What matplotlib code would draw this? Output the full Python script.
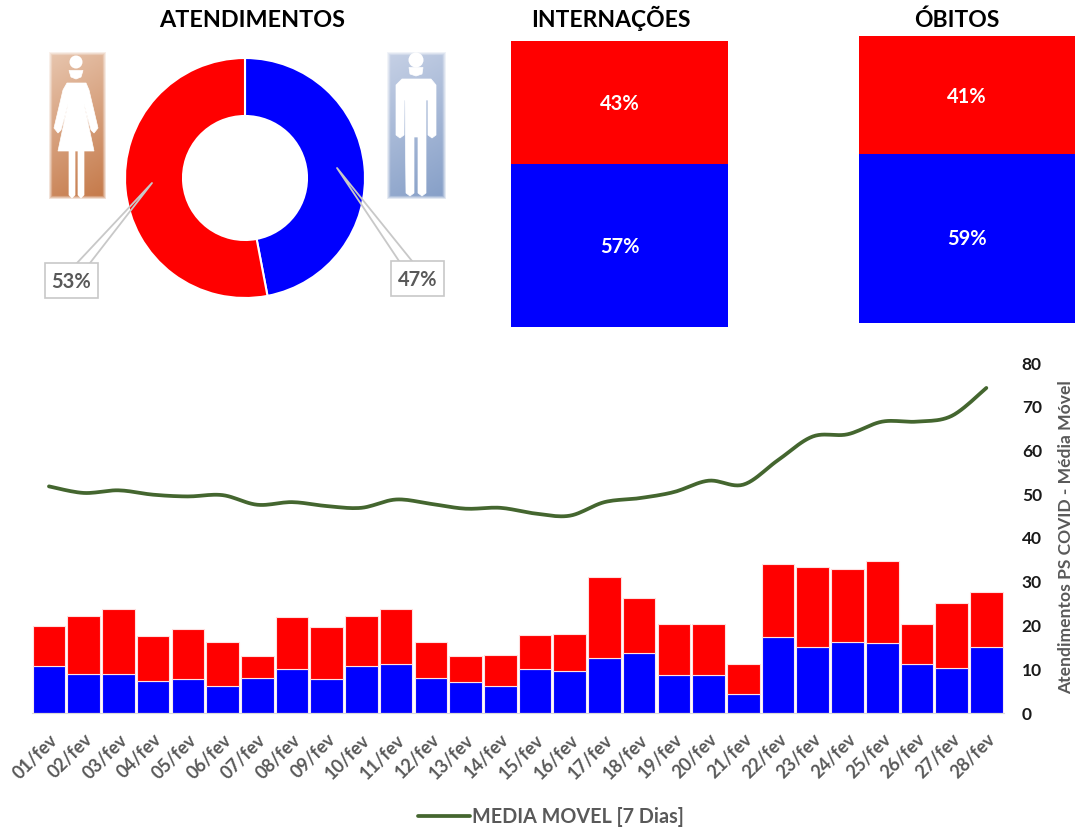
import numpy as np
import matplotlib
matplotlib.use("Agg")
import matplotlib.pyplot as plt
from matplotlib.patches import Polygon, Circle, Rectangle

plt.rcParams['font.family'] = ['Lato', 'DejaVu Sans']
plt.rcParams['font.weight'] = 'bold'

days = ["%02d/fev" % d for d in range(1, 29)]
masc = [10.8, 8.9, 8.9, 7.4, 7.8, 6.2, 8, 10, 7.8, 10.8, 11.2, 8, 7, 6.2, 10, 9.7, 12.6, 13.7, 8.6, 8.6,
        4.4, 17.4, 15.2, 16.3, 15.9, 11.2, 10.4, 15.2]
fem = [9.2, 13.2, 14.8, 10.3, 11.4, 10.1, 5, 11.9, 11.9, 11.3, 12.6, 8.3, 6, 7.1, 7.8, 8.4, 18.4, 12.6, 11.8, 11.8,
       6.7, 16.7, 18.1, 16.7, 18.9, 9.2, 14.7, 12.5]
media = [51.8, 50.3, 50.9, 49.9, 49.5, 49.8, 47.6, 48.2, 47.3, 46.9, 48.8, 47.8, 46.7, 46.9, 45.6, 45.1, 48.2, 49.1,
         50.5, 53.1, 52.2, 57.8, 63.2, 63.7, 66.6, 66.6, 67.9, 74.3]
atend = [47, 53]
inter = [57, 43]
obitos = [59, 41]
yticks = [0, 10, 20, 30, 40, 50, 60, 70, 80]

RED, BLUE, GREEN, GRAY = '#ff0000', '#0000ff', '#44662f', '#595959'
W, H = 1075, 830
fig = plt.figure(figsize=(W / 100, H / 100), dpi=100, facecolor='white')


def axpx(x0, y0, x1, y1, **kw):
    return fig.add_axes([x0 / W, 1 - y1 / H, (x1 - x0) / W, (y1 - y0) / H], **kw)


ov = axpx(0, 0, W, H, zorder=5)
ov.axis('off')
ov.patch.set_alpha(0)


def grad_icon(x0, y0, x1, y1, c0, c1):
    n, m = 146, 57
    gy, gx = np.mgrid[0:1:n * 1j, 0:1:m * 1j]
    t = (gy * 0.8 + gx * 0.2)[..., None]
    c0, c1 = np.array(c0), np.array(c1)
    rgb = c0 * (1 - t) + c1 * t
    e = np.minimum.reduce([gx * m, (1 - gx) * m, gy * n, (1 - gy) * n]) / 4.0
    a = np.clip(e, 0, 1)[..., None]
    ov.imshow(np.concatenate([rgb, a], axis=2), extent=(x0, x1, y1, y0), aspect='auto',
              interpolation='bilinear', zorder=1)


def white(poly):
    ov.add_patch(Polygon(poly, closed=True, fc='white', ec='white', lw=0.5, zorder=2))


grad_icon(48, 52, 107, 200, (0.91, 0.78, 0.69), (0.77, 0.47, 0.28))
grad_icon(386, 52, 447, 200, (0.78, 0.82, 0.90), (0.52, 0.62, 0.78))
ov.set_xlim(0, W)
ov.set_ylim(H, 0)

# woman
ov.add_patch(Circle((76, 62), 6.5, fc='white', ec='none', zorder=2))
white([(69, 70.5), (83, 70.5), (81, 77), (76, 79), (71, 77)])
white([(67, 83), (86, 83), (89, 90), (98, 128), (94, 133), (91, 130), (84, 104), (94, 151),
       (58, 151), (68, 104), (61, 130), (58, 133), (54, 128), (63, 90)])
white([(69, 150), (75, 150), (75, 195), (72, 198), (69, 195)])
white([(78, 150), (84, 150), (84, 195), (81, 198), (78, 195)])
# man
ov.add_patch(Circle((416, 60), 7.5, fc='white', ec='none', zorder=2))
white([(409, 67.5), (423, 67.5), (422, 74), (416, 76), (410, 74)])
white([(402, 79), (431, 79), (436, 85), (436, 135), (432, 138), (428, 135), (428, 100), (426, 100),
       (426, 193), (422, 196), (418, 193), (418, 137), (414, 137), (414, 193), (410, 196), (406, 193),
       (405, 100), (404, 100), (404, 135), (400, 138), (396, 135), (396, 85)])

# callouts
CALL = '#c8c8c8'
ov.plot([77, 152, 90], [263, 183, 263], color=CALL, lw=1.3, zorder=3)
ov.plot([399, 337, 412], [261, 168, 261], color=CALL, lw=1.3, zorder=3)
ov.add_patch(Rectangle((45, 263), 53, 35, fc='white', ec=CALL, lw=1.2, zorder=3))
ov.add_patch(Rectangle((391, 261), 53, 35, fc='white', ec=CALL, lw=1.2, zorder=3))
ov.text(71.5, 282, "53%", ha='center', va='center', fontsize=14.5, color=GRAY, zorder=4)
ov.text(417.5, 280, "47%", ha='center', va='center', fontsize=14.5, color=GRAY, zorder=4)

# titles
ov.text(252, 27, "ATENDIMENTOS", ha='center', va='baseline', fontsize=16.8, color='black')
ov.text(611, 27, "INTERNAÇÕES", ha='center', va='baseline', fontsize=16.5, color='black')
ov.text(957, 27, "ÓBITOS", ha='center', va='baseline', fontsize=16.5, color='black')

# donut
axd = axpx(125, 58, 365, 298)
axd.pie(atend, colors=[BLUE, RED], startangle=90, counterclock=False, radius=1,
        wedgeprops=dict(width=1 - 62 / 120, edgecolor='white', linewidth=1.5))
axd.set_xlim(-1, 1)
axd.set_ylim(-1, 1)


def stacked(box, vals):
    a = axpx(*box)
    a.bar([0], [vals[0]], width=1, color=BLUE)
    a.bar([0], [vals[1]], width=1, bottom=[vals[0]], color=RED)
    a.set_xlim(-.5, .5)
    a.set_ylim(0, 100)
    a.axis('off')
    a.text(0, vals[0] / 2 - 0.4, f"{vals[0]}%", color='white', ha='center', va='center', fontsize=14.5)
    a.text(0, vals[0] + vals[1] / 2 - 0.6, f"{vals[1]}%", color='white', ha='center', va='center', fontsize=14.5)


stacked((511, 41, 728, 327), inter)
stacked((859, 36, 1075, 323), obitos)

# main combo chart
ax = axpx(31.6, 363, 1003.7, 713)
x = np.arange(len(days))
ax.bar(x, masc, width=0.94, color=BLUE, edgecolor='#f4e8f4', linewidth=0.8)
ax.bar(x, fem, width=0.94, bottom=masc, color=RED, edgecolor='#ffe0e0', linewidth=0.8)


def smooth(xs, ys, k=12):
    xs, ys = np.asarray(xs, float), np.asarray(ys, float)
    px = np.r_[xs[0], xs, xs[-1]]
    py = np.r_[ys[0], ys, ys[-1]]
    outx, outy = [], []
    for i in range(1, len(px) - 2):
        t = np.linspace(0, 1, k, endpoint=False)
        for p, o in ((px, outx), (py, outy)):
            a, b, c, d = p[i - 1], p[i], p[i + 1], p[i + 2]
            o.extend(0.5 * (2 * b + (c - a) * t + (2 * a - 5 * b + 4 * c - d) * t ** 2 + (3 * b - a - 3 * c + d) * t ** 3))
    outx.append(xs[-1])
    outy.append(ys[-1])
    return outx, outy


sx, sy = smooth(x, media)
line, = ax.plot(sx, sy, color=GREEN, lw=2.7, solid_capstyle='round', label="MEDIA MOVEL [7 Dias]")
ax.set_xlim(-.5, len(days) - .5)
ax.set_ylim(0, 80)
ax.set_xticks(x)
ax.set_xticklabels(days, rotation=45, ha='right', rotation_mode='anchor', fontsize=13, color=GRAY)
ax.set_yticks(yticks)
ax.yaxis.tick_right()
ax.tick_params(axis='y', length=0, pad=13, labelsize=12.5, labelcolor='#1a1a1a')
ax.tick_params(axis='x', length=0, pad=13)
ax.yaxis.set_label_position('right')
ax.set_ylabel("Atendimentos PS COVID - Média Móvel", fontsize=12.6, color=GRAY, fontweight='bold',
              ha='center', va='center')
ax.yaxis.set_label_coords((1066 - 31.6) / (1003.7 - 31.6), 0.503)
for s in ('top', 'left', 'right'):
    ax.spines[s].set_visible(False)
ax.spines['bottom'].set_color('#d9d9d9')
ax.patch.set_alpha(0)
leg = fig.legend(handles=[line], loc='center', bbox_to_anchor=(551 / W, 1 - 817 / H), frameon=False,
                 fontsize=14.2, labelcolor=GRAY, handlelength=2.6, handletextpad=0.1,
                 borderpad=0)

fig.savefig("out.png", dpi=100, facecolor='white')
